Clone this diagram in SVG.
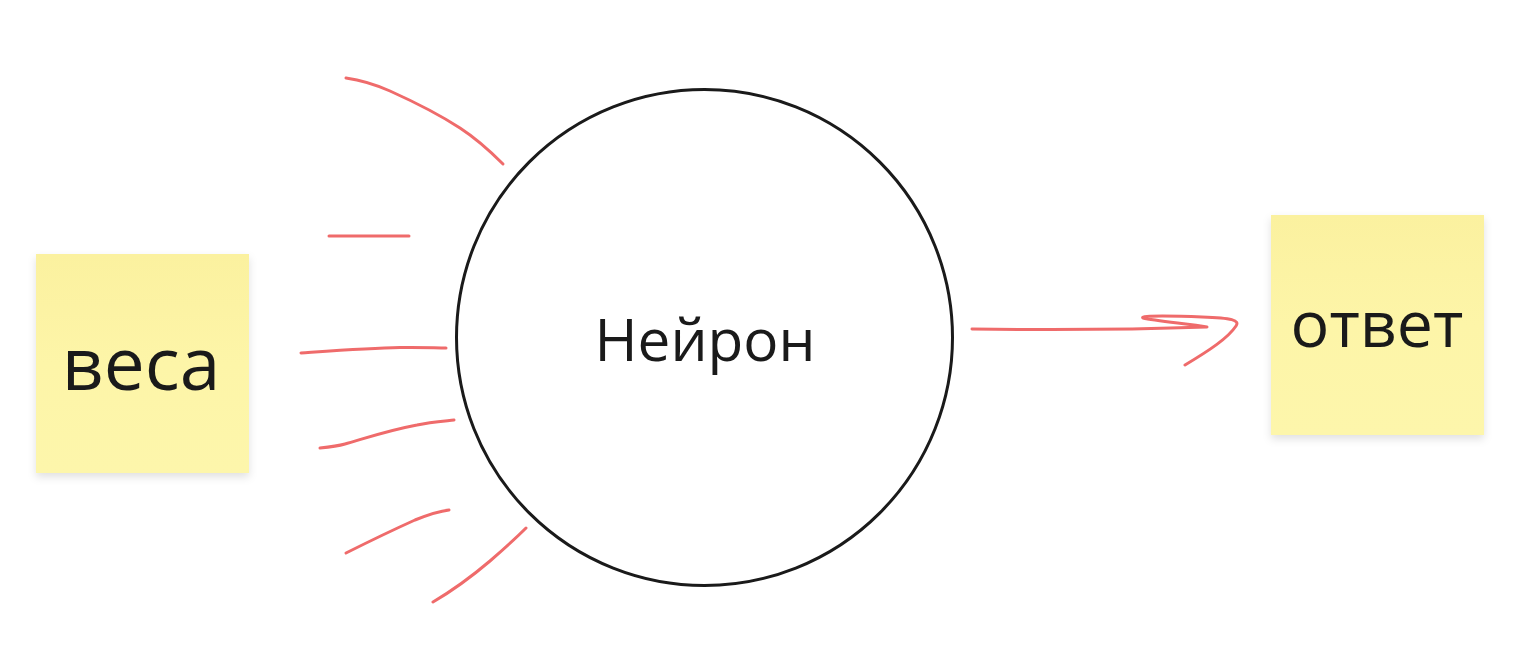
<svg xmlns="http://www.w3.org/2000/svg" width="1528" height="666" viewBox="0 0 1528 666">
<style>
.red{fill:none;stroke:#ef6b6b;stroke-width:3;stroke-linecap:round;stroke-linejoin:round}
.note{fill:url(#ng);filter:url(#sh)}
.lbl{font-family:"Open Sans","Noto Sans",sans-serif;fill:#1a1a1a;text-anchor:middle}
</style>
<defs>
<linearGradient id="ng" x1="0" y1="0" x2="0" y2="1">
<stop offset="0" stop-color="#fbf19f"/>
<stop offset="0.5" stop-color="#fdf5a8"/>
<stop offset="1" stop-color="#fdf6ab"/>
</linearGradient>
<filter id="sh" x="-20%" y="-20%" width="140%" height="140%">
<feDropShadow dx="0" dy="4" stdDeviation="4" flood-color="#000" flood-opacity="0.12"/>
</filter>
</defs>
<rect width="1528" height="666" fill="#ffffff"/>
<g id="node-weights">
<rect class="note" x="36" y="254" width="213" height="219"/>
<text class="lbl" x="141" y="390" font-size="73">веса</text>
</g>
<g id="node-neuron">
<circle cx="704.5" cy="337.5" r="248" fill="#ffffff" stroke="#1a1a1a" stroke-width="3"/>
<text class="lbl" x="705" y="361" font-size="58.5">Нейрон</text>
</g>
<g id="node-answer">
<rect class="note" x="1271" y="215" width="213" height="220"/>
<text class="lbl" x="1377" y="347" font-size="64.5">ответ</text>
</g>
<g id="connectors">
<path class="red" d="M346,78 C360,80 372,83 390,91 C410,100 440,115 460,128 C480,141 495,156 503,164"/>
<path class="red" d="M329,236 L409,236"/>
<path class="red" d="M301,353 C330,351 370,348 400,347.5 C420,347 436,348 446,348"/>
<path class="red" d="M320,448 C330,447 338,446 345,444 C360,440 385,431 417,425 C430,422 445,421 454,420"/>
<path class="red" d="M346,553 C370,541 395,529 415,520 C430,514 440,511 449,510"/>
<path class="red" d="M433,602 C450,592 470,578 490,561 C505,548 517,537 526,528"/>
<path class="red" d="M972,329 C1050,330 1150,329 1207,327 C1190,324 1155,321 1143,318 C1138,315 1180,316 1202,317 C1232,318 1240,320 1236,326 C1228,338 1210,350 1185,365"/>
</g>
</svg>
